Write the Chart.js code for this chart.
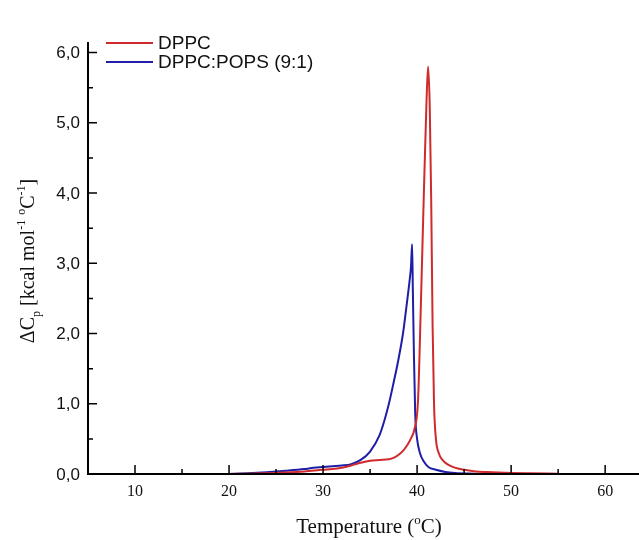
<!DOCTYPE html>
<html>
<head>
<meta charset="utf-8">
<script src="https://cdn.jsdelivr.net/npm/chart.js@4.4.1/dist/chart.umd.min.js"></script>
<style>
  html, body { margin: 0; padding: 0; background: #fff; }
  #wrap { width: 639px; height: 540px; position: relative; }
</style>
</head>
<body>
<div id="wrap"><canvas id="dsc"></canvas></div>
<script>
// DSC-data (temperatur i °C, ΔCp i kcal/mol/°C)
const dppcTemp = [20, 22, 24, 26, 28, 30, 31, 32, 33, 34, 35, 36, 37, 37.5, 38, 38.5, 39, 39.4, 39.7, 40.1, 40.4, 40.7, 41.0, 41.17, 41.35, 41.5, 41.65, 41.8, 42.0, 42.3, 42.7, 43.2, 44, 45, 46, 48, 50, 52, 55];
const dppcCp   = [0.0, 0.005, 0.01, 0.02, 0.035, 0.06, 0.07, 0.09, 0.12, 0.16, 0.19, 0.2, 0.21, 0.23, 0.27, 0.33, 0.42, 0.52, 0.63, 1.05, 2.4, 3.9, 5.3, 5.8, 5.2, 3.9, 2.1, 1.0, 0.5, 0.3, 0.2, 0.14, 0.09, 0.06, 0.04, 0.025, 0.015, 0.01, 0.005];

const popsTemp = [20, 22, 24, 26, 28, 29, 30, 31, 32, 33, 34, 35, 36, 36.5, 37, 37.5, 38, 38.5, 38.9, 39.2, 39.35, 39.47, 39.55, 39.65, 39.8, 40.0, 40.3, 40.7, 41.2, 42, 43, 44, 46, 48];
const popsCp   = [0.0, 0.01, 0.025, 0.045, 0.07, 0.09, 0.1, 0.11, 0.12, 0.14, 0.2, 0.32, 0.55, 0.75, 1.0, 1.3, 1.62, 2.0, 2.42, 2.75, 2.95, 3.27, 2.6, 1.8, 0.85, 0.5, 0.3, 0.18, 0.1, 0.06, 0.03, 0.015, 0.005, 0.0];

const seriesNames = ['DPPC', 'DPPC:POPS (9:1)'];
const seriesColors = ['#d02a2c', '#1e1ea6'];

// akser
const xMajor = [10, 20, 30, 40, 50, 60];
const xMinor = [15, 25, 35, 45, 55];
const yMajor = [0, 1, 2, 3, 4, 5, 6];
const yMajorLabels = ['0,0', '1,0', '2,0', '3,0', '4,0', '5,0', '6,0'];
const yMinor = [0.5, 1.5, 2.5, 3.5, 4.5, 5.5];

const toPoints = (xs, ys) => xs.map((x, i) => ({ x, y: ys[i] }));

// tegn tekst i stykker (sub-/superscript) centreret om cx
function drawPieces(ctx, pieces, cx, baseY) {
  let total = 0;
  pieces.forEach(p => { ctx.font = p.font; total += ctx.measureText(p.t).width; });
  let x = cx - total / 2;
  ctx.textAlign = 'left';
  ctx.textBaseline = 'alphabetic';
  pieces.forEach(p => {
    ctx.font = p.font;
    ctx.fillText(p.t, x, baseY + (p.dy || 0));
    x += ctx.measureText(p.t).width;
  });
}

// akser, ticks, titler og legend tegnes selv, så de ligner Origin-plottet
const originAxes = {
  id: 'originAxes',
  afterDraw(chart) {
    const { ctx, chartArea: a, scales: { x, y } } = chart;
    ctx.save();
    ctx.strokeStyle = '#000';
    ctx.fillStyle = '#111';
    ctx.lineWidth = 2;
    // akselinjer
    ctx.beginPath();
    ctx.moveTo(a.left, a.top);
    ctx.lineTo(a.left, a.bottom);
    ctx.lineTo(a.right, a.bottom);
    ctx.stroke();
    // ticks (indad)
    ctx.lineWidth = 1.5;
    ctx.beginPath();
    xMajor.forEach(v => { const px = x.getPixelForValue(v); ctx.moveTo(px, a.bottom); ctx.lineTo(px, a.bottom - 9); });
    xMinor.forEach(v => { const px = x.getPixelForValue(v); ctx.moveTo(px, a.bottom); ctx.lineTo(px, a.bottom - 5); });
    yMajor.forEach(v => { const py = y.getPixelForValue(v); ctx.moveTo(a.left, py); ctx.lineTo(a.left + 9, py); });
    yMinor.forEach(v => { const py = y.getPixelForValue(v); ctx.moveTo(a.left, py); ctx.lineTo(a.left + 5, py); });
    ctx.stroke();
    // tick-labels
    ctx.font = '16px "Liberation Serif", "Times New Roman", serif';
    ctx.textAlign = 'center';
    ctx.textBaseline = 'middle';
    xMajor.forEach(v => ctx.fillText(String(v), x.getPixelForValue(v), 492));
    ctx.font = '17px "Liberation Sans", Arial, sans-serif';
    ctx.textAlign = 'right';
    yMajor.forEach((v, i) => ctx.fillText(yMajorLabels[i], 80, y.getPixelForValue(v) + 1));
    // x-titel
    const big = '21px "Liberation Serif", "Times New Roman", serif';
    const small = '13px "Liberation Serif", "Times New Roman", serif';
    drawPieces(ctx, [
      { t: 'Temperature (', font: big },
      { t: 'o', font: small, dy: -9 },
      { t: 'C)', font: big }
    ], 369, 533);
    // y-titel (roteret)
    ctx.save();
    ctx.translate(34, 261);
    ctx.rotate(-Math.PI / 2);
    const yb = '20px "Liberation Serif", "Times New Roman", serif';
    const ys = '12px "Liberation Serif", "Times New Roman", serif';
    drawPieces(ctx, [
      { t: '\u0394C', font: yb },
      { t: 'p', font: ys, dy: 6 },
      { t: ' [kcal mol', font: yb },
      { t: '-1', font: ys, dy: -9 },
      { t: ' ', font: yb },
      { t: 'o', font: ys, dy: -9 },
      { t: 'C', font: yb },
      { t: '-1', font: ys, dy: -9 },
      { t: ']', font: yb }
    ], 0, 0);
    ctx.restore();
    // legend
    const legY = [43, 62];
    ctx.lineWidth = 2;
    ctx.font = '19px "Liberation Sans", Arial, sans-serif';
    ctx.textAlign = 'left';
    ctx.textBaseline = 'middle';
    seriesNames.forEach((name, i) => {
      ctx.strokeStyle = seriesColors[i];
      ctx.beginPath();
      ctx.moveTo(106, legY[i]);
      ctx.lineTo(153, legY[i]);
      ctx.stroke();
      ctx.fillStyle = '#111';
      ctx.fillText(name, 158, legY[i] + 1);
    });
    ctx.restore();
  }
};

new Chart(document.getElementById('dsc'), {
  type: 'line',
  data: {
    datasets: [
      { label: seriesNames[0], data: toPoints(dppcTemp, dppcCp), borderColor: seriesColors[0], borderWidth: 2, pointRadius: 0, cubicInterpolationMode: 'monotone' },
      { label: seriesNames[1], data: toPoints(popsTemp, popsCp), borderColor: seriesColors[1], borderWidth: 2, pointRadius: 0, cubicInterpolationMode: 'monotone' }
    ]
  },
  options: {
    responsive: true,
    maintainAspectRatio: false,
    animation: false,
    layout: { padding: { left: 88, top: 42, right: 0, bottom: 66 } },
    plugins: { legend: { display: false }, tooltip: { enabled: false } },
    scales: {
      x: { type: 'linear', min: 5, max: 63.6, display: false },
      y: { type: 'linear', min: 0, max: 6.15, display: false }
    }
  },
  plugins: [originAxes]
});
</script>
</body>
</html>
